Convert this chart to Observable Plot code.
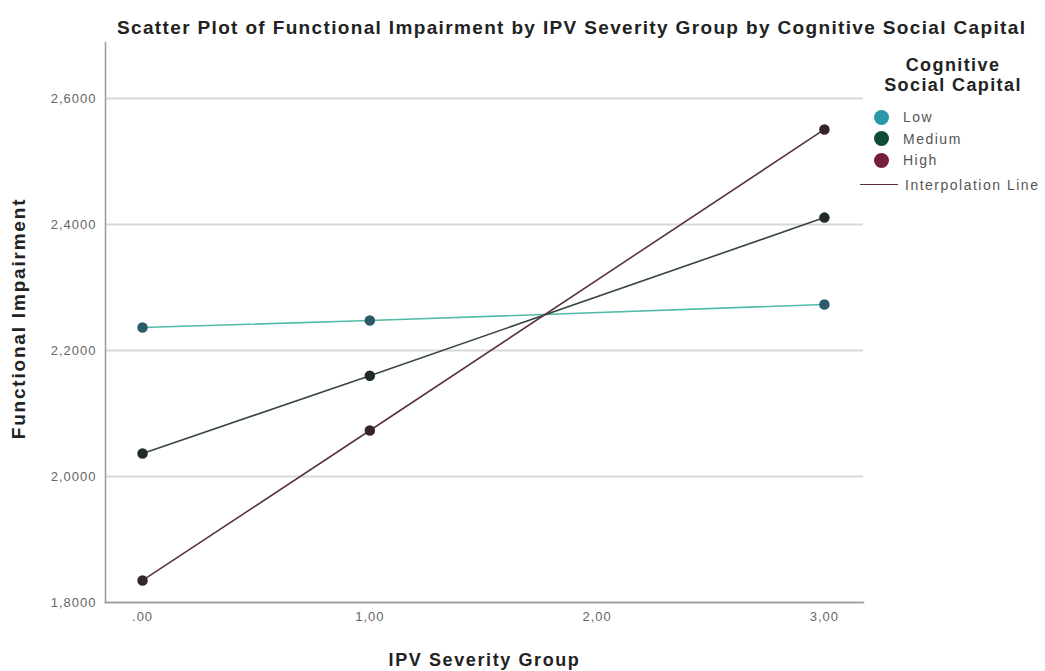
<!DOCTYPE html>
<html>
<head>
<meta charset="utf-8">
<script src="https://cdn.jsdelivr.net/npm/d3@7"></script>
<script src="https://cdn.jsdelivr.net/npm/@observablehq/plot@0.6"></script>
<style>
  html, body { margin: 0; padding: 0; background: #fff; }
  #wrap { position: relative; width: 1045px; height: 671px; font-family: "Liberation Sans", Arial, sans-serif; }
  #title { height: 38px; box-sizing: border-box; padding-top: 18px; line-height: 20px; font-size: 19px; letter-spacing: 1.35px; font-weight: bold; color: #222; padding-left: 117px; white-space: nowrap; }
  #legend { position: absolute; left: 860px; top: 50px; width: 186px; }
  #legend .lt { position: absolute; left: 0; width: 186px; text-align: center; font-size: 18px; letter-spacing: 1.4px; font-weight: bold; color: #222; line-height: 20px; }
  #legend .item { position: absolute; left: 14px; height: 18px; display: flex; align-items: center; font-size: 14px; letter-spacing: 1.5px; color: #555; white-space: nowrap; }
  #legend .sw { width: 15px; height: 15px; border-radius: 50%; margin-right: 14px; }
  #legend .ln { width: 38px; height: 0; border-top: 1.6px solid #5a2c3c; margin-right: 7px; }
</style>
</head>
<body>
<div id="wrap">
  <div id="title">Scatter Plot of Functional Impairment by IPV Severity Group by Cognitive Social Capital</div>
  <div id="chart"></div>
  <div id="legend"></div>
</div>
<script>
// Data
const groups = [0, 1, 3];
const lowValues = [2.2365, 2.2476, 2.2730];
const mediumValues = [2.0365, 2.1600, 2.4110];
const highValues = [1.8350, 2.0730, 2.5510];
const seriesNames = ["Low", "Medium", "High"];
const yTicks = [1.8, 2.0, 2.2, 2.4, 2.6];
const xTicks = [0, 1, 2, 3];
const xTickLabels = [".00", "1,00", "2,00", "3,00"];
const legendTitle = ["Cognitive", "Social Capital"];
const lineLegendLabel = "Interpolation Line";
const xLabel = "IPV Severity Group";
const yLabel = "Functional Impairment";

const lineColors = {Low: "#52bca8", Medium: "#34463f", High: "#5a3442"};
const dotColors = {Low: "#2c5a68", Medium: "#1f2b28", High: "#35242c"};
const legendColors = {Low: "#2a97a6", Medium: "#0f4b3b", High: "#761f3d"};

const valuesBySeries = {Low: lowValues, Medium: mediumValues, High: highValues};
const rows = seriesNames.flatMap(s => groups.map((g, i) => ({series: s, group: g, value: valuesBySeries[s][i]})));

const chart = Plot.plot({
  width: 1045,
  height: 633,
  marginLeft: 105,
  marginRight: 182,
  marginTop: 4,
  marginBottom: 69,
  style: {fontFamily: "'Liberation Sans', Arial, sans-serif", fontSize: "13px", color: "#666", background: "transparent"},
  x: {domain: [-0.163, 3.172]},
  y: {domain: [1.8, 2.689]},
  marks: [
    Plot.gridY(yTicks, {stroke: "#d8d8d8", strokeOpacity: 1, strokeWidth: 2}),
    Plot.frame({anchor: "left", stroke: "#999", strokeWidth: 1.5}),
    Plot.frame({anchor: "bottom", stroke: "#999", strokeWidth: 1.5}),
    Plot.axisY(yTicks, {tickSize: 0, tickPadding: 9, tickFormat: d => d.toFixed(4).replace(".", ","), label: null}),
    Plot.axisX(xTicks, {tickSize: 0, tickPadding: 9, tickFormat: (d, i) => xTickLabels[i], label: null}),
    ...seriesNames.map(s => Plot.line(rows.filter(r => r.series === s), {x: "group", y: "value", stroke: lineColors[s], strokeWidth: 1.6})),
    ...seriesNames.map(s => Plot.dot(rows.filter(r => r.series === s), {x: "group", y: "value", fill: dotColors[s], stroke: dotColors[s], r: 4.5})),
    Plot.text([xLabel], {frameAnchor: "bottom", dy: 58, text: d => d, fontSize: 18, fontWeight: "bold", fill: "#222", lineAnchor: "middle", textAnchor: "middle"}),
    Plot.text([yLabel], {frameAnchor: "left", dx: -87, dy: -4, rotate: -90, text: d => d, fontSize: 19, fontWeight: "bold", fill: "#222", lineAnchor: "middle", textAnchor: "middle"})
  ]
});
document.getElementById("chart").appendChild(chart);

const svg = d3.select(chart);
svg.selectAll('g[aria-label="y-axis tick label"] text, g[aria-label="x-axis tick label"] text').style("letter-spacing", "1px");
svg.selectAll("text").filter(function() { return this.textContent === xLabel; }).style("letter-spacing", "1.6px");
svg.selectAll("text").filter(function() { return this.textContent === yLabel; }).style("letter-spacing", "1.8px");

// Legend
const leg = document.getElementById("legend");
legendTitle.forEach((t, i) => {
  const d = document.createElement("div");
  d.className = "lt";
  d.style.top = (5 + i * 20) + "px";
  d.textContent = t;
  leg.appendChild(d);
});
seriesNames.forEach((s, i) => {
  const it = document.createElement("div");
  it.className = "item";
  it.style.top = (58 + i * 21.5) + "px";
  const sw = document.createElement("span");
  sw.className = "sw";
  sw.style.background = legendColors[s];
  it.appendChild(sw);
  it.appendChild(document.createTextNode(s));
  leg.appendChild(it);
});
const li = document.createElement("div");
li.className = "item";
li.style.top = (58 + 3 * 21.5 + 3) + "px";
li.style.left = "0px";
const ln = document.createElement("span");
ln.className = "ln";
li.appendChild(ln);
li.appendChild(document.createTextNode(lineLegendLabel));
leg.appendChild(li);
</script>
</body>
</html>
